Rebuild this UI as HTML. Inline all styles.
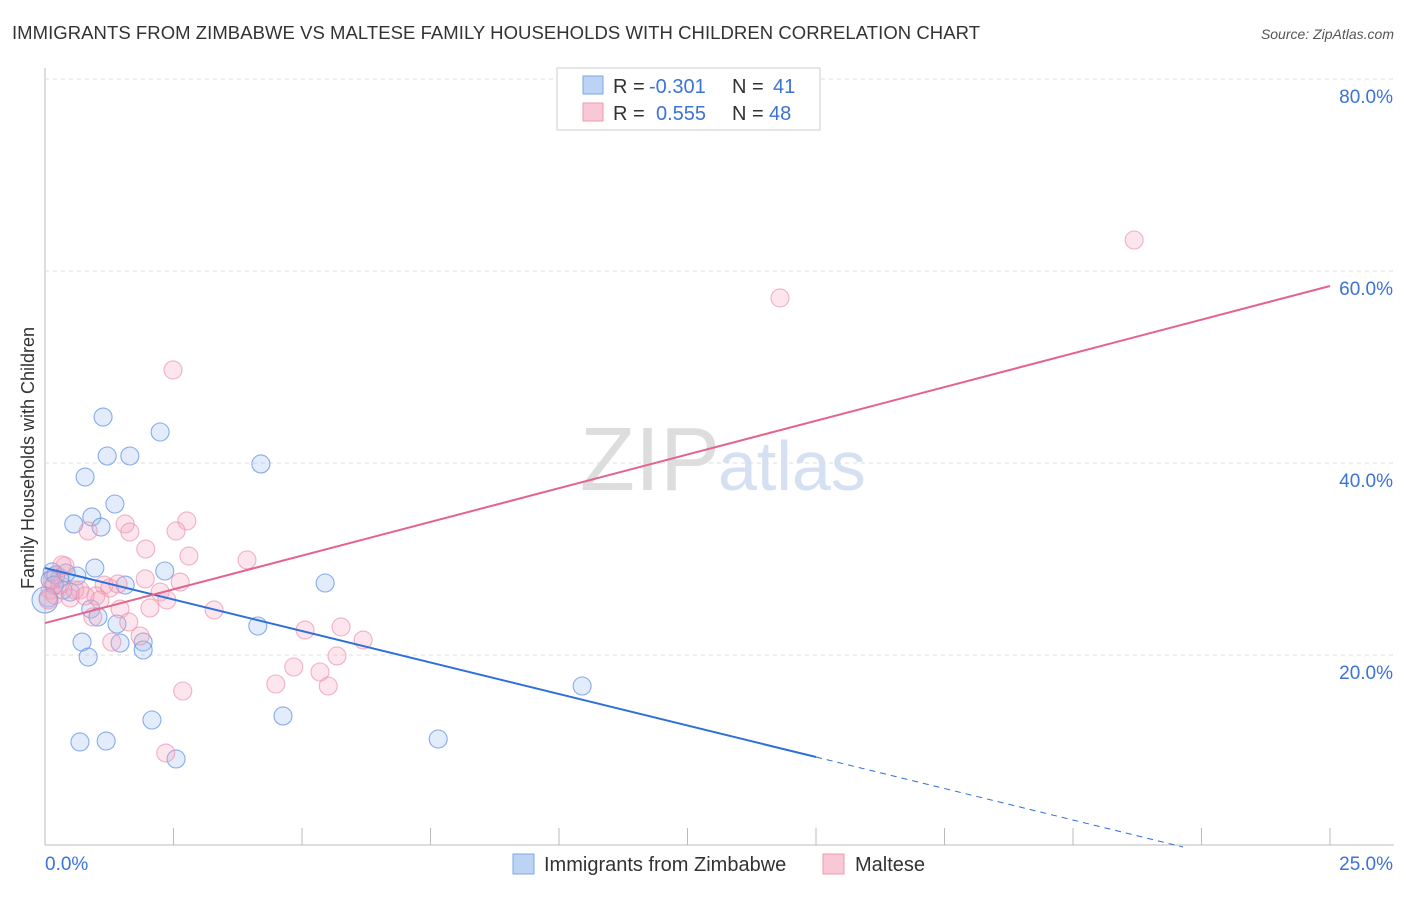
<!DOCTYPE html>
<html><head><meta charset="utf-8"><style>
body{margin:0;background:#fff;font-family:"Liberation Sans",sans-serif;}
svg text{font-family:"Liberation Sans",sans-serif;}
</style></head><body>
<svg id="c" width="1406" height="892">
<text x="12" y="39" font-size="18.5" fill="#333" textLength="968">IMMIGRANTS FROM ZIMBABWE VS MALTESE FAMILY HOUSEHOLDS WITH CHILDREN CORRELATION CHART</text>
<text x="1394" y="39" font-size="14" fill="#555" font-style="italic" text-anchor="end">Source: ZipAtlas.com</text>
<text x="34" y="458" font-size="18" fill="#333" transform="rotate(-90 34 458)" text-anchor="middle">Family Households with Children</text>
<text x="720" y="490" font-size="90" fill="#ddd" text-anchor="end" font-family="Liberation Serif">ZIP</text>
<text x="718" y="490" font-size="70" fill="#d5e0f3">atlas</text>
<g id="grid"></g><g id="pts"></g><g id="lines"></g>
<g>
<rect x="557" y="68" width="263" height="62" fill="#fff" stroke="#ccc"/>
<rect x="583" y="76" width="20" height="18" fill="#bcd3f5" stroke="#7da6e6"/>
<rect x="583" y="103" width="20" height="18" fill="#f9c8d6" stroke="#ee9ab2"/>
<text x="613" y="93" font-size="20" fill="#333">R =</text>
<text x="649" y="93" font-size="20" fill="#3b73d6">-0.301</text>
<text x="732" y="93" font-size="20" fill="#333">N =</text>
<text x="773" y="93" font-size="20" fill="#3b73d6">41</text>
<text x="613" y="120" font-size="20" fill="#333">R =</text>
<text x="656" y="120" font-size="20" fill="#3b73d6">0.555</text>
<text x="732" y="120" font-size="20" fill="#333">N =</text>
<text x="769" y="120" font-size="20" fill="#3b73d6">48</text>
</g>
<g>
<rect x="513" y="854" width="21" height="20" fill="#bcd3f5" stroke="#7da6e6"/>
<text x="544" y="871" font-size="20" fill="#333">Immigrants from Zimbabwe</text>
<rect x="823" y="854" width="21" height="20" fill="#f9c8d6" stroke="#ee9ab2"/>
<text x="855" y="871" font-size="20" fill="#333">Maltese</text>
</g>
</svg>
<script>
const xTicks=[0,25];
const yTicks=[20,40,60,80];
const blueX=[1.13,1.21,1.65,2.24,4.20,0.78,1.36,0.91,0.56,1.09,0.97,2.33,0.62,0.14,0.29,0.10,1.56,5.45,0.49,0.89,1.03,1.40,4.14,0.72,1.91,1.46,1.91,0.84,10.45,2.08,4.63,0.68,1.19,7.65,2.55,0.06,0.21,0.35,0.41,0.18,0.0];
const blueY=[44.79,40.73,40.73,43.23,39.90,38.54,35.73,34.38,33.65,33.33,29.06,28.75,28.23,28.65,28.02,27.81,27.29,27.50,26.56,24.79,23.96,23.23,23.02,21.35,21.35,21.25,20.52,19.79,16.77,13.23,13.65,10.94,11.04,11.25,9.17,25.94,28.33,26.77,28.54,27.29,25.73];
const pinkX=[21.19,14.30,2.49,2.76,1.56,2.55,0.84,1.65,1.96,2.80,3.93,0.39,1.95,2.63,1.15,0.68,2.24,0.99,2.37,2.04,1.46,3.29,0.93,1.63,1.85,1.30,5.06,5.76,6.19,5.68,4.84,5.35,4.49,5.51,2.68,2.35,0.10,0.19,0.29,0.49,0.58,0.78,1.26,0.14,0.06,0.33,1.07,1.42];
const pinkY=[63.23,57.19,49.69,33.96,33.65,32.92,32.92,32.81,31.04,30.31,29.90,29.27,27.92,27.60,27.29,26.77,26.56,26.15,25.73,24.90,24.79,24.69,23.96,23.44,21.98,21.35,22.60,22.92,21.56,19.90,18.75,18.23,16.98,16.77,16.25,9.79,26.77,26.25,27.29,25.94,26.77,26.15,26.98,27.81,25.73,29.38,25.73,27.40];
const blueTrend=[29.06,-1.3125];
const blueSolidEnd=15;
const pinkTrend=[23.33,1.4044];
const NS='http://www.w3.org/2000/svg';
const X=v=>45+v/25*1285, Y=v=>847-v*9.6;
function mk(t,a,p){const e=document.createElementNS(NS,t);for(const k in a)e.setAttribute(k,a[k]);p.appendChild(e);return e;}
const grid=document.getElementById('grid');
mk('line',{x1:45,y1:68,x2:45,y2:845,stroke:'#bbb'},grid);
mk('line',{x1:45,y1:845,x2:1394,y2:845,stroke:'#bbb'},grid);
for(let i=1;i<=10;i++){mk('line',{x1:X(i*2.5),y1:828,x2:X(i*2.5),y2:845,stroke:'#bbb'},grid);}
yTicks.forEach(t=>{const l=mk('line',{x1:45,y1:Y(t),x2:1394,y2:Y(t),stroke:'#ddd','stroke-dasharray':'4,4'},grid);


const tx=mk('text',{x:1393,y:Y(t)+24,'font-size':19,fill:'#3b73d6','text-anchor':'end'},grid);tx.textContent=t.toFixed(1)+'%';

});
xTicks.forEach((t,i)=>{const tx=mk('text',{x:i?1393:45,y:870,'font-size':19,fill:'#3b73d6','text-anchor':i?'end':'start'},grid);tx.textContent=t.toFixed(1)+'%';

});
const pts=document.getElementById('pts');
function dots(xs,ys,fill,st,nm){xs.forEach((x,i)=>{const c=mk('circle',{cx:X(x),cy:Y(ys[i]),r:(x<0.05?13:9),fill:fill,stroke:st,'stroke-width':1.1},pts);

});}
dots(blueX,blueY,'rgba(160,192,240,0.3)','rgba(90,140,225,0.7)','zimbabwe');
dots(pinkX,pinkY,'rgba(245,168,192,0.3)','rgba(235,140,170,0.65)','maltese');
const ln=document.getElementById('lines');
const f=(tr,x)=>tr[0]+tr[1]*x;
let a=mk('line',{x1:X(0),y1:Y(f(blueTrend,0)),x2:X(blueSolidEnd),y2:Y(f(blueTrend,blueSolidEnd)),stroke:'#2e6fd8','stroke-width':2},ln);


const x0=-blueTrend[0]/blueTrend[1];
let b=mk('line',{x1:X(blueSolidEnd),y1:Y(f(blueTrend,blueSolidEnd)),x2:X(x0),y2:Y(0),stroke:'#2e6fd8','stroke-width':1,'stroke-dasharray':'6,5'},ln);


let p=mk('line',{x1:X(0),y1:Y(f(pinkTrend,0)),x2:X(25),y2:Y(f(pinkTrend,25)),stroke:'#e4638c','stroke-width':2},ln);


</script>
</body></html>
